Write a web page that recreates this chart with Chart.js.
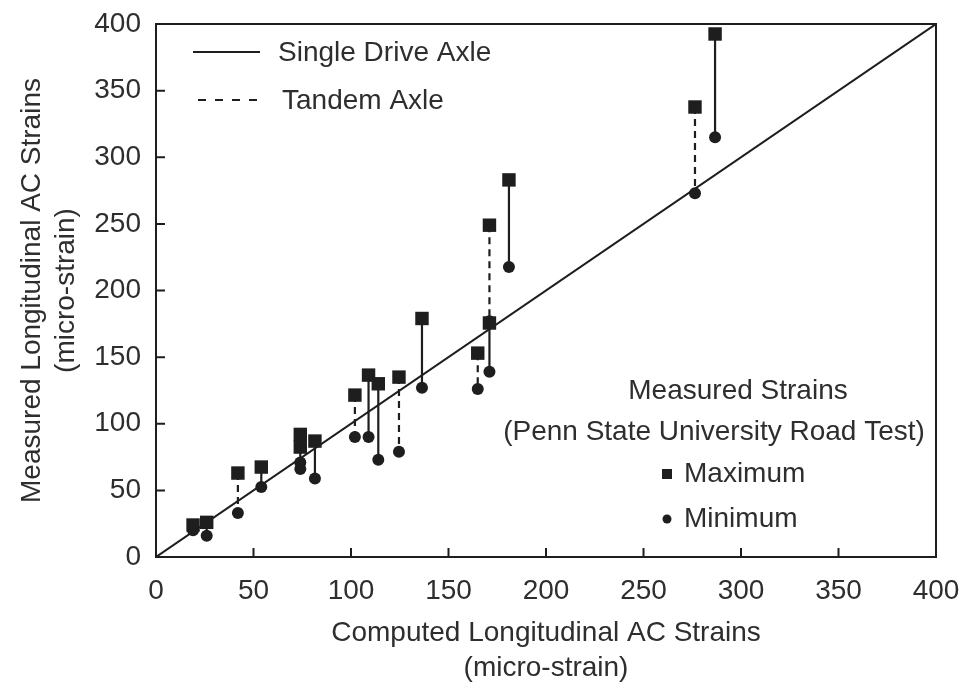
<!DOCTYPE html>
<html>
<head>
<meta charset="utf-8">
<script src="https://cdn.jsdelivr.net/npm/chart.js@4.4.1/dist/chart.umd.min.js"></script>
<style>
  body { margin: 0; background: #fff; }
  #wrap { width: 977px; height: 686px; position: relative; }
</style>
</head>
<body>
<div id="wrap"><canvas id="strainChart"></canvas></div>
<script>
// computed strain (x) and the measured max / min at that point
const computed    = [19, 26, 42, 54, 74, 74, 81.5, 102, 109, 114, 124.6, 136.4, 165, 171, 171, 181, 276.4, 286.7];
const measuredMax = [24, 26, 63, 67.5, 92, 82.5, 87, 121.5, 136.5, 130, 135, 179, 153, 249, 175.6, 283, 337.7, 392.5];
const measuredMin = [20, 16, 33, 52.5, 71, 66, 59, 90, 90, 73, 79, 127, 126, 177, 139, 217.6, 273, 315];
const axleType    = ['T','S','T','S','T','S','S','T','S','S','T','S','T','T','S','S','T','S']; // S = single drive, T = tandem
const equalityLine = [0, 400];
const tickValues = [0, 50, 100, 150, 200, 250, 300, 350, 400];

const FONT = '"Liberation Sans", Arial, Helvetica, sans-serif';
const INK = '#1e1e1e';
const TXT = '#2e2e2e';

function pairs(type) {
  let out = [];
  computed.forEach(function(x, i) {
    if (axleType[i] !== type) return;
    out.push({x: x, y: measuredMax[i]}, {x: x, y: measuredMin[i]}, {x: x, y: null});
  });
  return out;
}

// box round the plot, inward ticks and the two text keys
const decor = {
  id: 'decor',
  afterDraw(chart) {
    const ctx = chart.ctx, a = chart.chartArea;
    const xs = chart.scales.x, ys = chart.scales.y;
    ctx.save();
    ctx.strokeStyle = INK;
    ctx.lineWidth = 2;
    ctx.strokeRect(a.left, a.top, a.right - a.left, a.bottom - a.top);
    ctx.beginPath();
    tickValues.forEach(function(v) {
      const px = xs.getPixelForValue(v);
      ctx.moveTo(px, a.bottom); ctx.lineTo(px, a.bottom - 9);
      const py = ys.getPixelForValue(v);
      ctx.moveTo(a.left, py); ctx.lineTo(a.left + 9, py);
    });
    ctx.stroke();

    // line-style key, top left
    ctx.lineWidth = 1.8;
    ctx.beginPath(); ctx.moveTo(193, 52); ctx.lineTo(260, 52); ctx.stroke();
    ctx.setLineDash([8, 9]);
    ctx.beginPath(); ctx.moveTo(198, 100); ctx.lineTo(262, 100); ctx.stroke();
    ctx.setLineDash([]);

    ctx.fillStyle = TXT;
    ctx.font = '28px ' + FONT;
    ctx.textBaseline = 'middle';
    ctx.textAlign = 'left';
    ctx.fillText('Single Drive Axle', 278, 53);
    ctx.fillText('Tandem Axle', 282, 101);

    // marker key, bottom right
    ctx.textAlign = 'center';
    ctx.fillText('Measured Strains', 738, 391);
    ctx.fillText('(Penn State University Road Test)', 714, 432);
    ctx.textAlign = 'left';
    ctx.fillText('Maximum', 684, 474);
    ctx.fillText('Minimum', 684, 519);
    ctx.fillStyle = INK;
    ctx.fillRect(662, 469, 10, 10);
    ctx.beginPath(); ctx.arc(667, 519, 4.5, 0, Math.PI * 2); ctx.fill();
    ctx.restore();
  }
};

new Chart(document.getElementById('strainChart'), {
  type: 'scatter',
  data: {
    datasets: [
      {
        label: 'Maximum',
        data: computed.map(function(x, i) { return {x: x, y: measuredMax[i]}; }),
        pointStyle: 'rect', pointRadius: 9.5,
        backgroundColor: INK, borderColor: INK, borderWidth: 0,
        order: 0
      },
      {
        label: 'Minimum',
        data: computed.map(function(x, i) { return {x: x, y: measuredMin[i]}; }),
        pointStyle: 'circle', pointRadius: 6,
        backgroundColor: INK, borderColor: INK, borderWidth: 0,
        order: 0
      },
      {
        label: 'Single Drive Axle',
        type: 'line', data: pairs('S'), showLine: true, spanGaps: false,
        borderColor: INK, borderWidth: 2.2, pointRadius: 0,
        order: 1
      },
      {
        label: 'Tandem Axle',
        type: 'line', data: pairs('T'), showLine: true, spanGaps: false,
        borderColor: INK, borderWidth: 2.2, borderDash: [7, 5], pointRadius: 0,
        order: 1
      },
      {
        label: 'Equality',
        type: 'line',
        data: equalityLine.map(function(v) { return {x: v, y: v}; }),
        showLine: true, borderColor: INK, borderWidth: 2, pointRadius: 0,
        order: 2
      }
    ]
  },
  options: {
    responsive: true,
    maintainAspectRatio: false,
    animation: false,
    layout: { padding: { top: 24, right: 41, left: 0, bottom: 0 } },
    plugins: { legend: { display: false }, tooltip: { enabled: false } },
    scales: {
      x: {
        type: 'linear', min: 0, max: 400,
        afterFit: function(s) { s.height = 129; },
        afterBuildTicks: function(s) { s.ticks = tickValues.map(function(v) { return {value: v}; }); },
        grid: { display: false },
        border: { display: false },
        ticks: { color: TXT, padding: 9, font: { family: FONT, size: 28 }, maxRotation: 0 },
        title: {
          display: true,
          text: ['Computed Longitudinal AC Strains', '(micro-strain)'],
          color: TXT,
          font: { family: FONT, size: 28, lineHeight: 1.22 },
          padding: { top: 0, bottom: 1 }
        }
      },
      y: {
        type: 'linear', min: 0, max: 400,
        afterFit: function(s) { s.width = 156; },
        afterBuildTicks: function(s) { s.ticks = tickValues.map(function(v) { return {value: v}; }); },
        grid: { display: false },
        border: { display: false },
        ticks: { color: TXT, padding: 7, font: { family: FONT, size: 28 } },
        title: {
          display: true,
          text: ['Measured Longitudinal AC Strains', '(micro-strain)'],
          color: TXT,
          font: { family: FONT, size: 28, lineHeight: 1.22 },
          padding: { top: 15, bottom: 0 }
        }
      }
    }
  },
  plugins: [decor]
});
</script>
</body>
</html>
